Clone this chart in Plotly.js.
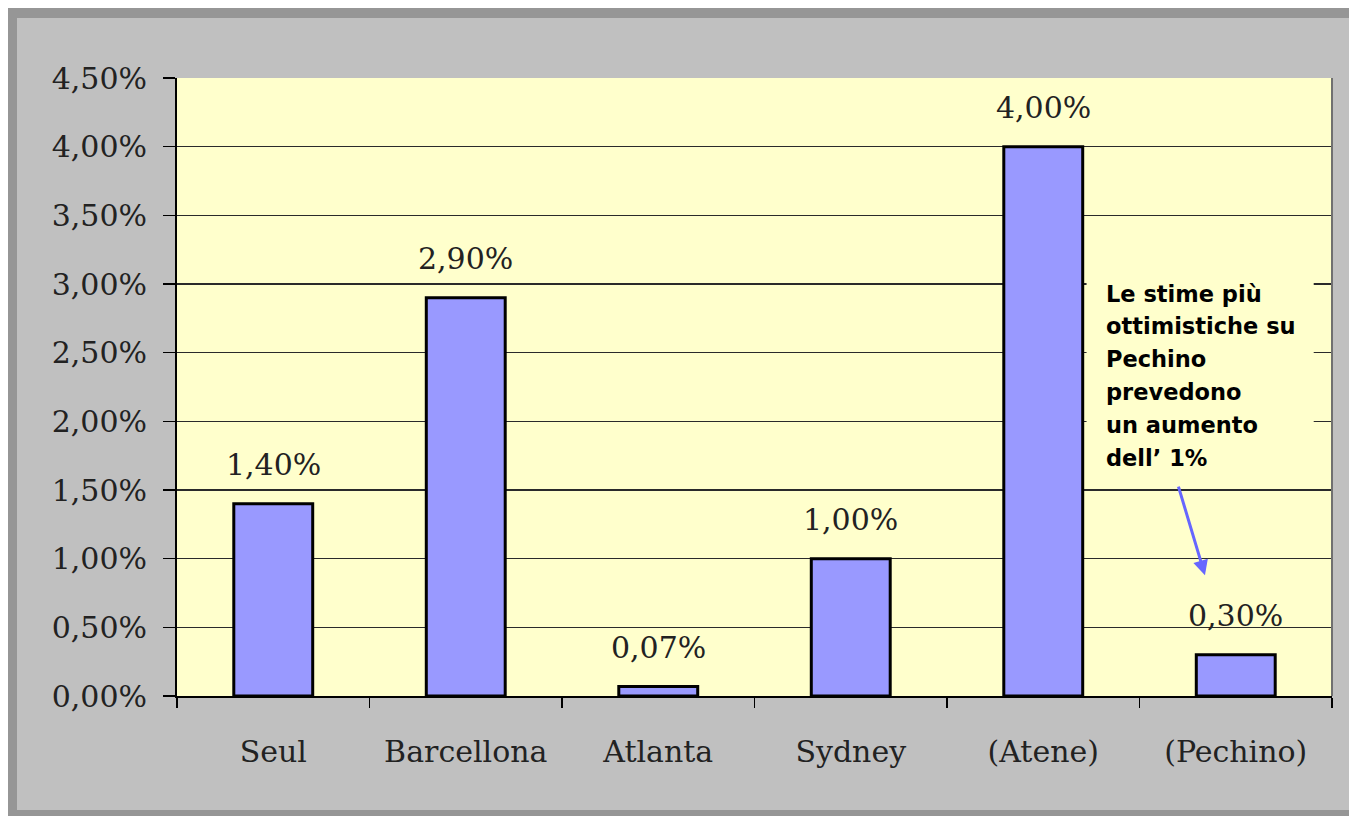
<!DOCTYPE html>
<html>
<head>
<meta charset="utf-8">
<script src="https://cdn.plot.ly/plotly-3.0.1.min.js"></script>
<style>
  html, body { margin:0; padding:0; background:#ffffff; width:1349px; height:816px; overflow:hidden; }
  #frame { position:absolute; left:8px; top:8px; width:1341px; height:808px; background:#969696; }
  #chart { position:absolute; left:17px; top:18px; width:1332px; height:792px; }
</style>
</head>
<body>
<div id="frame"></div>
<div id="chart"></div>
<script>
const categories = ["Seul", "Barcellona", "Atlanta", "Sydney", "(Atene)", "(Pechino)"];
const values = [0.014, 0.029, 0.0007, 0.010, 0.040, 0.003];
const yTickVals = [0, 0.005, 0.01, 0.015, 0.02, 0.025, 0.03, 0.035, 0.04, 0.045];
const noteLines = ["Le stime più", "ottimistiche su", "Pechino", "prevedono", "un aumento", "dell’ 1%"];

const serif = "DejaVu Serif, serif";
const sans = "DejaVu Sans, sans-serif";

function fmt(v) { return (v * 100).toFixed(2).replace('.', ',') + '%'; }

const trace = {
  type: 'bar',
  x: categories,
  y: values,
  width: 0.41,
  marker: { color: '#9999ff', line: { color: '#000000', width: 3 } },
  hoverinfo: 'skip'
};

const labelAnns = categories.map((c, i) => ({
  x: c, y: values[i], xref: 'x', yref: 'y',
  text: fmt(values[i]), showarrow: false,
  yanchor: 'middle', yshift: 39,
  font: { family: serif, size: 30, color: '#222222' }
}));

const noteAnns = noteLines.map((t, i) => ({
  x: 4.314, y: 0.0293, xref: 'x', yref: 'y',
  xanchor: 'left', yanchor: 'middle', align: 'left',
  yshift: -32.8 * i,
  text: '<b>' + t + '</b>', showarrow: false,
  font: { family: sans, size: 22.5, color: '#000000' }
}));

const layout = {
  width: 1332, height: 792,
  margin: { l: 160, r: 17, t: 60, b: 114 },
  paper_bgcolor: '#c0c0c0',
  plot_bgcolor: '#ffffcc',
  separators: ',.',
  showlegend: false,
  xaxis: {
    type: 'category',
    range: [-0.5, 5.5],
    tickson: 'boundaries',
    ticks: 'outside', ticklen: 10, tickwidth: 1.5, tickcolor: '#000',
    showline: true, linecolor: '#000', linewidth: 2,
    showgrid: false, zeroline: false,
    ticklabelstandoff: 28,
    tickfont: { family: serif, size: 30, color: '#222222' },
    fixedrange: true
  },
  yaxis: {
    range: [0, 0.045],
    tickvals: yTickVals,
    tickformat: '.2%',
    ticks: 'outside', ticklen: 12, tickwidth: 1.5, tickcolor: '#000',
    showline: true, linecolor: '#000', linewidth: 2,
    showgrid: true, gridcolor: '#2a2a2a', gridwidth: 1.5,
    zeroline: false,
    ticklabelstandoff: 10,
    tickfont: { family: serif, size: 30, color: '#222222' },
    fixedrange: true
  },
  shapes: [
    { type: 'line', xref: 'paper', yref: 'paper', x0: 1, x1: 1, y0: 0, y1: 1,
      line: { color: '#707070', width: 2 } },
    { type: 'rect', xref: 'x', yref: 'y', x0: 4.225, x1: 5.405, y0: 0.0159, y1: 0.0309,
      fillcolor: '#ffffcc', line: { width: 0 }, layer: 'above' }
  ],
  annotations: labelAnns.concat(noteAnns, [
    {
      x: 4.84, y: 0.0088, xref: 'x', yref: 'y',
      ax: 4.70, ay: 0.01536, axref: 'x', ayref: 'y',
      text: '', showarrow: true, arrowhead: 2, arrowsize: 1, arrowwidth: 3,
      arrowcolor: '#6666ff'
    }
  ])
};

Plotly.newPlot('chart', [trace], layout, { staticPlot: true, displayModeBar: false });
</script>
</body>
</html>
